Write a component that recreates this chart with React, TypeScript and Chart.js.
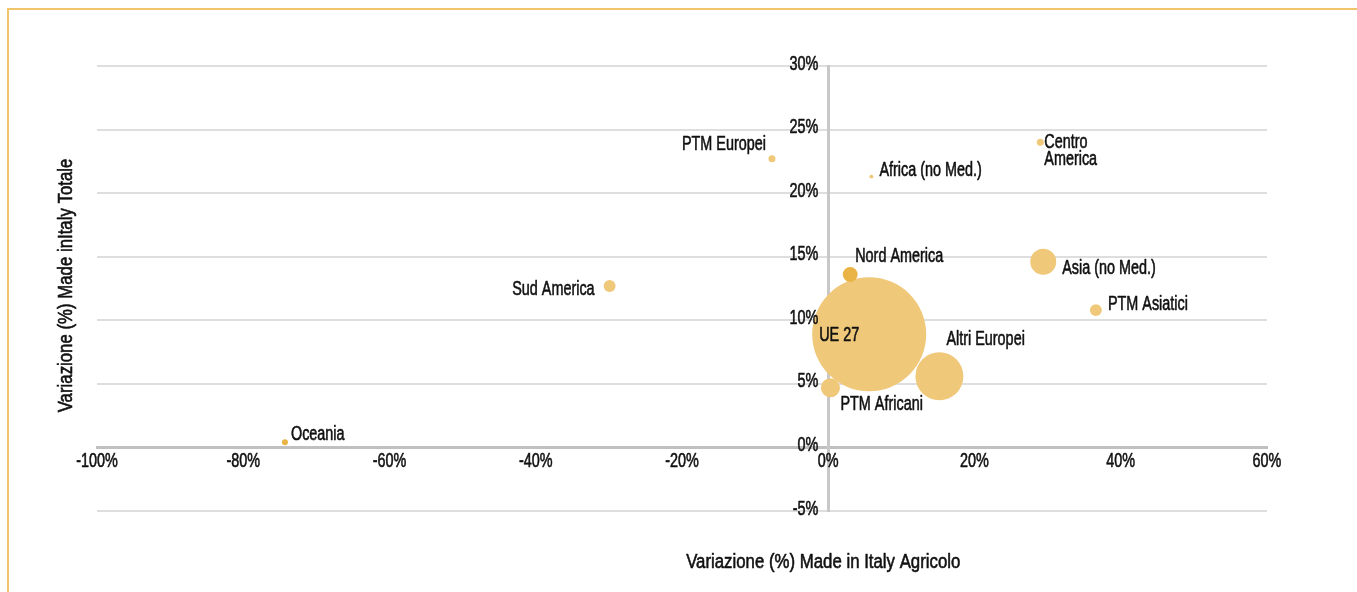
import React, { useEffect, useRef } from "react";
import { Chart, registerables } from "chart.js";

Chart.register(...registerables);

// ---- Data ----
const countries = [
  "UE 27",
  "Altri Europei",
  "PTM Africani",
  "Nord America",
  "Asia (no Med.)",
  "PTM Asiatici",
  "Sud America",
  "PTM Europei",
  "Centro America",
  "Africa (no Med.)",
  "Oceania",
];
// Variazione (%) Made in Italy Agricolo
const agricoloVar = [5.6, 15.2, 0.3, 3.0, 29.4, 36.6, -29.9, -7.7, 29.0, 5.9, -74.3];
// Variazione (%) Made in Italy Totale
const totaleVar = [8.9, 5.6, 4.7, 13.6, 14.6, 10.8, 12.7, 22.7, 24.0, 21.3, 0.4];
// Peso relativo (dimensione bolla)
const peso = [100, 17.7, 2.8, 1.7, 5.2, 1.1, 1.1, 0.38, 0.38, 0.12, 0.28];

const xTickValues = [-100, -80, -60, -40, -20, 0, 20, 40, 60];
const yTickValues = [-5, 0, 5, 10, 15, 20, 25, 30];

const xTitle = "Variazione (%) Made in Italy Agricolo";
const yTitle = "Variazione (%) Made inItaly Totale";

// ---- Style ----
const FONT = "20px 'Liberation Sans', Arial, sans-serif";
const TEXT_COLOR = "#111111";
const SX_LABEL = 0.72;
const SX_TICK = 0.72;
const SX_TITLE = 0.84;
const MAIN = "#EFC87A";
const DARK = "#E9B445";
const pointColors: Record<string, string> = {
  "Nord America": DARK,
  Oceania: DARK,
};
const labelStyle: Record<string, { dx: number; dy: number; align: CanvasTextAlign; lines?: string[] }> = {
  "UE 27": { dx: -50, dy: 1, align: "left" },
  "Altri Europei": { dx: 7, dy: -37, align: "left" },
  "PTM Africani": { dx: 10, dy: 17, align: "left" },
  "Nord America": { dx: 5, dy: -18, align: "left" },
  "Asia (no Med.)": { dx: 19, dy: 7, align: "left" },
  "PTM Asiatici": { dx: 12, dy: -6, align: "left" },
  "Sud America": { dx: -15, dy: 4, align: "right" },
  "PTM Europei": { dx: -6, dy: -14, align: "right" },
  "Centro America": { dx: 4, dy: 0, align: "left", lines: ["Centro", "America"] },
  "Africa (no Med.)": { dx: 8, dy: -6, align: "left" },
  Oceania: { dx: 6, dy: -8, align: "left" },
};
const RADIUS_K = 5.7;

function drawText(
  ctx: CanvasRenderingContext2D,
  text: string,
  x: number,
  y: number,
  align: CanvasTextAlign,
  sx: number
) {
  ctx.save();
  ctx.translate(x, y);
  ctx.scale(sx, 1);
  ctx.textAlign = align;
  ctx.fillText(text, 0, 0);
  ctx.strokeText(text, 0, 0);
  ctx.restore();
}

const textPlugin = {
  id: "textLayer",
  afterDatasetsDraw(chart: any) {
    const ctx = chart.ctx as CanvasRenderingContext2D;
    const meta = chart.getDatasetMeta(0);
    const xs = chart.scales.x;
    const ys = chart.scales.y;
    const area = chart.chartArea;
    const axisX = xs.getPixelForValue(0);
    const axisY = ys.getPixelForValue(0);
    ctx.save();
    ctx.font = FONT;
    ctx.fillStyle = TEXT_COLOR;
    ctx.strokeStyle = TEXT_COLOR;
    ctx.lineWidth = 0.6;
    ctx.lineJoin = "round";
    ctx.textBaseline = "middle";

    // bubble labels
    meta.data.forEach((el: any, i: number) => {
      const name = countries[i];
      const st = labelStyle[name] || { dx: 8, dy: 0, align: "left" as CanvasTextAlign };
      const lines = st.lines || [name];
      lines.forEach((ln, k) => {
        drawText(ctx, ln, el.x + st.dx, el.y + st.dy + k * 17, st.align, SX_LABEL);
      });
    });

    // tick labels
    yTickValues.forEach((v) => {
      drawText(ctx, `${v}%`, axisX - 10, ys.getPixelForValue(v) - 2, "right", SX_TICK);
    });
    xTickValues.forEach((v) => {
      drawText(ctx, `${v}%`, xs.getPixelForValue(v), axisY + 14, "center", SX_TICK);
    });

    // axis titles
    drawText(ctx, xTitle, axisX - 5, area.bottom + 51, "center", SX_TITLE);
    ctx.save();
    ctx.translate(area.left - 31, (area.top + area.bottom) / 2 - 3);
    ctx.rotate(-Math.PI / 2);
    drawText(ctx, yTitle, 0, 0, "center", SX_TITLE);
    ctx.restore();

    ctx.restore();
  },
};

export default function App() {
  const ref = useRef<HTMLCanvasElement | null>(null);

  useEffect(() => {
    if (!ref.current) return;
    const data = countries.map((c, i) => ({
      x: agricoloVar[i],
      y: totaleVar[i],
      r: RADIUS_K * Math.sqrt(peso[i]),
    }));
    const chart = new Chart(ref.current, {
      type: "bubble",
      data: {
        labels: countries,
        datasets: [
          {
            label: "Paesi",
            data,
            backgroundColor: countries.map((c) => pointColors[c] || MAIN),
            borderWidth: 0,
            hoverBorderWidth: 0,
          },
        ],
      },
      options: {
        responsive: false,
        animation: false,
        devicePixelRatio: 1,
        events: [],
        layout: { padding: { left: 97, right: 90, top: 66, bottom: 81 } },
        plugins: {
          legend: { display: false },
          tooltip: { enabled: false },
        },
        scales: {
          x: {
            type: "linear",
            position: { y: 0 } as any,
            min: -100,
            max: 60,
            afterBuildTicks: (s: any) => {
              s.ticks = xTickValues.map((v) => ({ value: v }));
            },
            grid: { display: false, drawTicks: false },
            border: { display: true, color: "#C0C0C0", width: 3 },
            ticks: { display: false },
          },
          y: {
            type: "linear",
            position: { x: 0 } as any,
            min: -5,
            max: 30,
            afterBuildTicks: (s: any) => {
              s.ticks = yTickValues.map((v) => ({ value: v }));
            },
            grid: {
              drawTicks: false,
              color: (c: any) => (c.tick && c.tick.value === 0 ? "#C0C0C0" : "#DEDEDE"),
              lineWidth: (c: any) => (c.tick && c.tick.value === 0 ? 3 : 2),
            },
            border: { display: true, color: "#C8C8C8", width: 3 },
            ticks: { display: false },
          },
        },
      },
      plugins: [textPlugin],
    });
    return () => chart.destroy();
  }, []);

  return (
    <>
      <div
        style={{
          position: "fixed",
          left: 7,
          top: 8,
          width: 1350,
          height: 584,
          borderTop: "2px solid #F1C56C",
          borderLeft: "2px solid #F1C56C",
          boxSizing: "border-box",
        }}
      />
      <canvas
        ref={ref}
        width={1357}
        height={592}
        style={{ position: "fixed", left: 0, top: 0, width: 1357, height: 592 }}
      />
    </>
  );
}
